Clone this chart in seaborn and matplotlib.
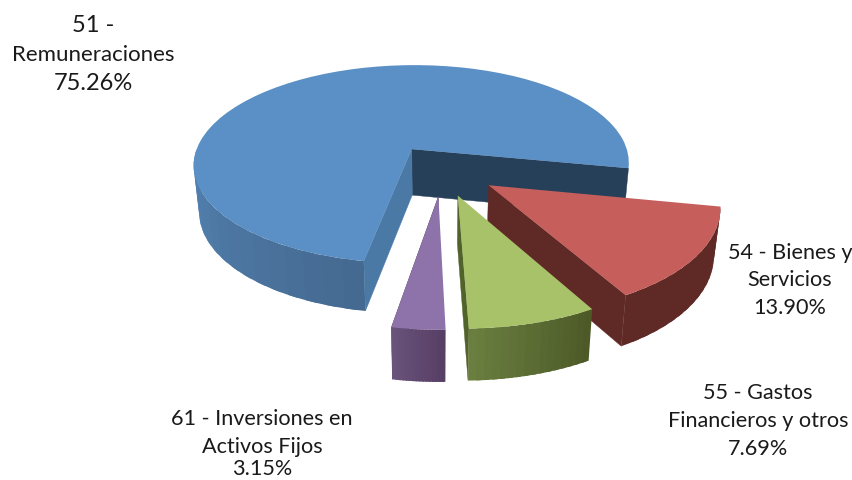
import matplotlib
matplotlib.use("Agg")
import matplotlib.pyplot as plt
from matplotlib.transforms import Transform
import seaborn as sns
import numpy as np

# data
categories = ["51", "54", "55", "61"]
names = [["Remuneraciones"], ["Bienes y", "Servicios"],
         ["Gastos", "Financieros y otros"], ["Inversiones en", "Activos Fijos"]]
values = [75.26, 13.90, 7.69, 3.15]
explode = [0.25, 0.25, 0.25, 0.25]

# colours: top face, radial face, rim light -> dark
top_colors = ["#5b90c6", "#c65f5b", "#a7c269", "#8e72aa"]
face_colors = ["#274059", "#5f2926", "#52622b", "#583f66"]
rim_colors = [("#5483b3", "#456a91"), ("#5f2926", "#5f2926"),
              ("#697e3f", "#4d5a28"), ("#68537a", "#573e65")]

# projection of the pie plane to the picture (pixels)
CX, CY = 412.0, 150.0
A, B, P = 215.0, 96.7, 0.1516
SKEW = 20.0
DEPTH = 46.0


def project(xy):
    xy = np.asarray(xy, dtype=float)
    s = 1 / (1 + P * xy[..., 1])
    return np.stack([CX + A * xy[..., 0] * s - SKEW * (s - 1), CY - B * xy[..., 1] * s], axis=-1)


def lower(xy):
    # same points on the underside of the pie
    xy = np.asarray(xy, dtype=float)
    p = project(xy)
    s = 1 / (1 + P * xy[..., 1])
    return np.stack([435 + (p[..., 0] - 435) * 0.977, p[..., 1] + DEPTH * np.sqrt(s)], axis=-1)


class Plane(Transform):
    input_dims = 2
    output_dims = 2
    is_separable = False

    def transform_non_affine(self, values):
        return project(values)


sns.set_theme(style="white")
plt.rcParams["font.family"] = ["Lato", "DejaVu Sans"]

fig = plt.figure(figsize=(8.53, 4.81), dpi=100)
ax = fig.add_axes([0, 0, 1, 1])

wedges, _ = ax.pie(values, explode=explode, colors=top_colors, startangle=259.9,
                   counterclock=False, center=(0.14, -0.2075), frame=False,
                   wedgeprops={"linewidth": 0})


def radial_face(w, theta, color, z):
    t = np.radians(theta)
    c = np.array(w.center, dtype=float)
    rim = c + w.r * np.array([np.cos(t), np.sin(t)])
    pts = np.array([project(c), project(rim), lower(rim), lower(c)])
    ax.fill(pts[:, 0], pts[:, 1], color=color, lw=0.3, zorder=z)


def draw_rim(w, colors, z, n=16):
    start = 180.0 if w.theta2 > 180 else w.theta1
    edges = np.linspace(start, w.theta2, n + 1)
    shades = sns.blend_palette(list(colors), n)
    c = np.array(w.center, dtype=float)
    for a, b, col in zip(edges[:-1], edges[1:], shades):
        t = np.radians(np.linspace(a, b + 0.6 * (b - a), 5))
        t = np.clip(t, None, np.radians(w.theta2))
        arc = c + w.r * np.stack([np.cos(t), np.sin(t)], axis=-1)
        pts = np.vstack([project(arc), lower(arc)[::-1]])
        ax.fill(pts[:, 0], pts[:, 1], color=col, lw=0, zorder=z)


for i, w in enumerate(wedges):
    z = 10 * (i + 1)
    if i == 0:
        # both cut faces of the big slice show
        radial_face(w, w.theta1, face_colors[0], z)
        radial_face(w, w.theta2, "#4b79a6", z)
    else:
        radial_face(w, w.theta1, face_colors[i], z)
    draw_rim(w, rim_colors[i], z + 1)
    w.set_transform(Plane() + ax.transData)
    w.set_zorder(z + 2)

ax.set_aspect("auto")
ax.set_xlim(0, 853)
ax.set_ylim(481, 0)
ax.axis("off")

# labels
label_x = [93, 790, 758, 262]
label_y = [[25, 55, 83], [253, 280, 308], [393, 421, 449], [419, 447, 469]]
for i in range(len(values)):
    if len(names[i]) == 1:
        lines = [categories[i] + " -", names[i][0]]
    else:
        lines = [categories[i] + " - " + names[i][0], names[i][1]]
    lines.append(f"{values[i]:.2f}%")
    for j, line in enumerate(lines):
        size = 15.6
        if i == 0:
            size = 16 if j == 1 else 17
        ax.text(label_x[i], label_y[i][j], line, ha="center", va="center",
                fontsize=size, color="#1a1a1a", zorder=100)

fig.savefig("out.png", dpi=100, facecolor="white")
